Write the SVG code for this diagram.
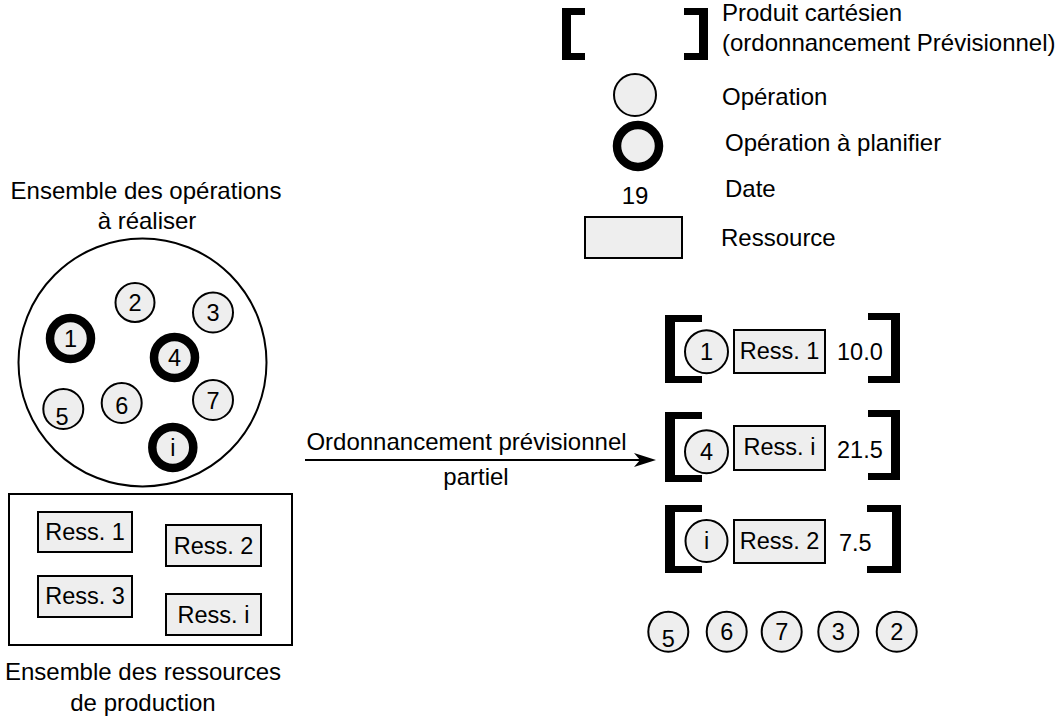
<svg xmlns="http://www.w3.org/2000/svg" width="1061" height="717" viewBox="0 0 1061 717">
<style>
text{font-family:"Liberation Sans",Arial,sans-serif;font-size:23.5px;fill:#000}
.lg{font-size:24px}
.c{text-anchor:middle}
.op{fill:#eeeeee;stroke:#000;stroke-width:2}
.opt{fill:#eeeeee;stroke:#000;stroke-width:8.5}
.res{fill:#eeeeee;stroke:#000;stroke-width:2}
.br{fill:#000}
.ln{fill:none;stroke:#000;stroke-width:2}
</style>
<rect width="1061" height="717" fill="#fff"/>

<g id="legend">
  <polygon class="br" points="585,8 562,8 562,60 585,60 585,53 571,53 571,15 585,15"/>
  <polygon class="br" points="684,8 708,8 708,60 684,60 684,53 699,53 699,15 684,15"/>
  <text class="lg" x="722" y="21">Produit cartésien</text>
  <text class="lg" x="722" y="51">(ordonnancement Prévisionnel)</text>
  <circle class="op" cx="635" cy="95" r="21"/>
  <text class="lg" x="722" y="105">Opération</text>
  <circle class="opt" cx="638" cy="146" r="21"/>
  <text class="lg" x="725" y="151">Opération à planifier</text>
  <text class="c lg" x="635" y="204">19</text>
  <text class="lg" x="725" y="197">Date</text>
  <rect class="res" x="585" y="217" width="97" height="41"/>
  <text class="lg" x="721" y="246">Ressource</text>
</g>

<g id="operations">
  <text class="c lg" x="146" y="199">Ensemble des opérations</text>
  <text class="c lg" x="147" y="229">à réaliser</text>
  <circle class="ln" cx="142.5" cy="362.5" r="124"/>
  <g id="op1"><circle class="opt" cx="70.5" cy="338.5" r="20.5"/><text class="c" x="70.5" y="347">1</text></g>
  <g id="op2"><circle class="op" cx="135" cy="302.5" r="19.5"/><text class="c" x="135" y="311">2</text></g>
  <g id="op3"><circle class="op" cx="213" cy="312.5" r="20"/><text class="c" x="213" y="321">3</text></g>
  <g id="op4"><circle class="opt" cx="174.5" cy="357.5" r="20.5"/><text class="c" x="174.5" y="366">4</text></g>
  <g id="op5"><circle class="op" cx="63.3" cy="409" r="20"/><text class="c" x="62" y="425">5</text></g>
  <g id="op6"><circle class="op" cx="121.7" cy="403" r="20"/><text class="c" x="121.7" y="414">6</text></g>
  <g id="op7"><circle class="op" cx="213" cy="400" r="20"/><text class="c" x="213" y="409">7</text></g>
  <g id="opi"><circle class="opt" cx="172.8" cy="447.5" r="20.5"/><text class="c" x="172.8" y="456">i</text></g>
</g>

<g id="resources">
  <rect class="ln" x="9" y="494" width="283" height="151"/>
  <g id="r1"><rect class="res" x="38" y="512" width="94" height="40"/><text class="c" x="85" y="540">Ress. 1</text></g>
  <g id="r2"><rect class="res" x="166" y="525" width="95" height="41"/><text class="c" x="213.5" y="554">Ress. 2</text></g>
  <g id="r3"><rect class="res" x="38" y="576" width="94" height="41"/><text class="c" x="85" y="604">Ress. 3</text></g>
  <g id="ri"><rect class="res" x="166" y="594" width="95" height="41"/><text class="c" x="213.5" y="623">Ress. i</text></g>
  <text class="c lg" x="143" y="680">Ensemble des ressources</text>
  <text class="c lg" x="143" y="711">de production</text>
</g>

<g id="connectors">
  <line class="ln" x1="305" y1="460" x2="645" y2="460"/>
  <path d="M656,460 L634,453 L640,460 L634,467 Z" fill="#000"/>
  <text class="c lg" x="466.5" y="450">Ordonnancement prévisionnel</text>
  <text class="c lg" x="476" y="485">partiel</text>
</g>

<g id="row1">
  <polygon class="br" points="702,315 665,315 665,383 702,383 702,376 675,376 675,322 702,322"/>
  <polygon class="br" points="868,313 900,313 900,383 868,383 868,376 891,376 891,320 868,320"/>
  <circle class="op" cx="706.5" cy="351.7" r="21.5"/><text class="c" x="706.5" y="360">1</text>
  <rect class="res" x="734" y="330" width="91" height="43"/><text class="c" x="779.5" y="359">Ress. 1</text>
  <text x="837" y="360">10.0</text>
</g>
<g id="row2">
  <polygon class="br" points="702,412 665,412 665,482 702,482 702,475 675,475 675,419 702,419"/>
  <polygon class="br" points="868,410 900,410 900,480 868,480 868,473 891,473 891,417 868,417"/>
  <circle class="op" cx="706.5" cy="451.7" r="21.5"/><text class="c" x="706.5" y="460">4</text>
  <rect class="res" x="734" y="426" width="91" height="44"/><text class="c" x="779.5" y="455">Ress. i</text>
  <text x="837" y="458">21.5</text>
</g>
<g id="row3">
  <polygon class="br" points="702,505 665,505 665,573 702,573 702,566 675,566 675,512 702,512"/>
  <polygon class="br" points="867,505 901,505 901,573 867,573 867,566 892,566 892,512 867,512"/>
  <circle class="op" cx="706.5" cy="541" r="21"/><text class="c" x="706.5" y="549">i</text>
  <rect class="res" x="734" y="520" width="91" height="43"/><text class="c" x="779.5" y="549">Ress. 2</text>
  <text x="839" y="551">7.5</text>
</g>

<g id="remaining">
  <g id="b5"><circle class="op" cx="668.3" cy="631.7" r="20"/><text class="c" x="668.3" y="647">5</text></g>
  <g id="b6"><circle class="op" cx="726.7" cy="631.7" r="20"/><text class="c" x="726.7" y="640">6</text></g>
  <g id="b7"><circle class="op" cx="781.7" cy="631.7" r="20"/><text class="c" x="781.7" y="640">7</text></g>
  <g id="b3"><circle class="op" cx="838.3" cy="631.7" r="20"/><text class="c" x="838.3" y="640">3</text></g>
  <g id="b2"><circle class="op" cx="896.7" cy="631.7" r="20"/><text class="c" x="896.7" y="640">2</text></g>
</g>
</svg>
